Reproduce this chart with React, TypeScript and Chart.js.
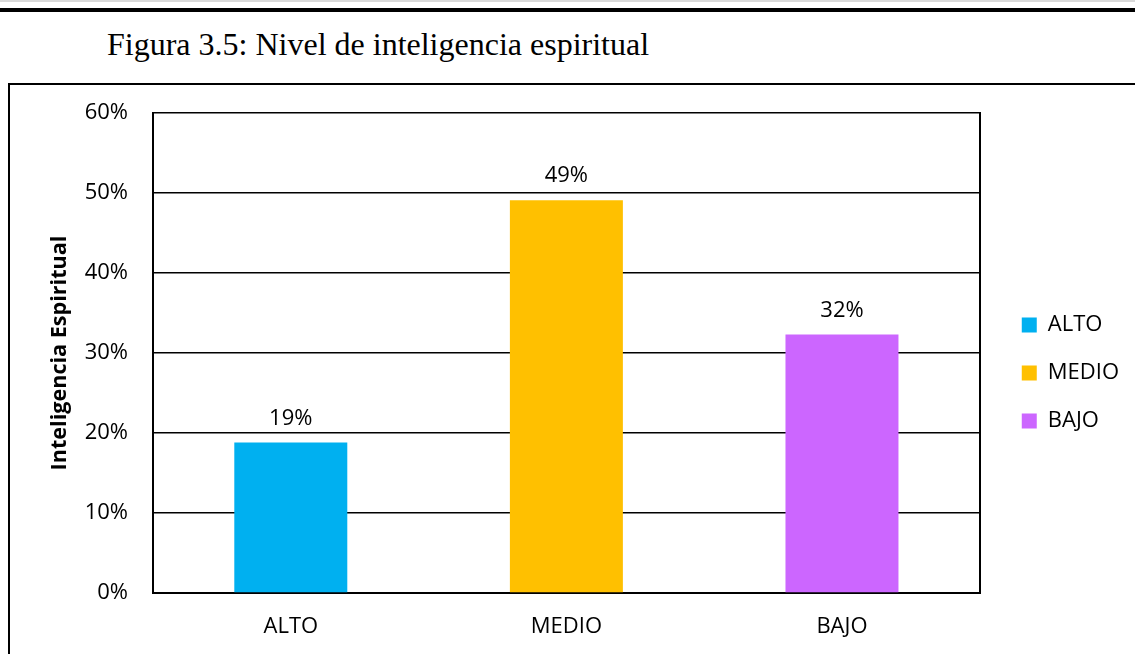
import React, { useEffect, useRef } from "react";
import { Chart, registerables } from "chart.js";

Chart.register(...registerables);

const categories = ["ALTO", "MEDIO", "BAJO"];
const values = [18.8, 49.1, 32.3];
const valueLabels = ["19%", "49%", "32%"];
const barColors = ["#00B0F0", "#FFC000", "#CC66FF"];
const yTicks = [0, 10, 20, 30, 40, 50, 60];
const chartTitle = "Figura 3.5: Nivel de inteligencia espiritual";
const yAxisTitle = "Inteligencia Espiritual";

const FONT = '"Open Sans", "Noto Sans", sans-serif';

const valueLabelPlugin = {
  id: "valueLabels",
  afterDatasetsDraw(chart: any) {
    const { ctx } = chart;
    const meta = chart.getDatasetMeta(0);
    ctx.save();
    ctx.font = `22px ${FONT}`;
    ctx.fillStyle = "#000";
    ctx.textAlign = "center";
    ctx.textBaseline = "middle";
    meta.data.forEach((bar: any, i: number) => {
      ctx.fillText(valueLabels[i], bar.x, bar.y - 24);
    });
    ctx.restore();
  },
};

export default function App() {
  const canvasRef = useRef<HTMLCanvasElement | null>(null);

  useEffect(() => {
    if (!canvasRef.current) return;
    const chart = new Chart(canvasRef.current, {
      type: "bar",
      data: {
        labels: categories,
        datasets: [
          {
            label: yAxisTitle,
            data: values,
            backgroundColor: barColors,
            borderWidth: 0,
            barPercentage: 0.41,
            categoryPercentage: 1,
          },
        ],
      },
      options: {
        animation: false,
        responsive: false,
        maintainAspectRatio: false,
        color: "#000",
        layout: { padding: { top: 113, bottom: 11, left: 47, right: 6 } },
        plugins: {
          tooltip: { enabled: false },
          title: { display: false },
          legend: {
            display: true,
            position: "right",
            fullSize: false,
            title: {
              display: true,
              text: " ",
              color: "#000",
              font: { size: 10 },
              padding: { top: 14, bottom: 14 },
            },
            labels: {
              boxWidth: 15,
              boxHeight: 15,
              padding: 26,
              color: "#000",
              font: { family: FONT, size: 22 },
              generateLabels: () =>
                categories.map((c, i) => ({
                  text: c,
                  fillStyle: barColors[i],
                  strokeStyle: barColors[i],
                  fontColor: "#000",
                  lineWidth: 0,
                  hidden: false,
                  index: i,
                  datasetIndex: 0,
                })),
            },
          },
        },
        scales: {
          x: {
            grid: { display: false, drawTicks: false },
            border: { display: true, color: "#000", width: 2 },
            ticks: { color: "#000", font: { family: FONT, size: 22 }, padding: 21 },
            afterFit: (s: any) => {
              s.height = 50;
            },
          },
          y: {
            min: 0,
            max: 60,
            afterBuildTicks: (s: any) => {
              s.ticks = yTicks.map((v) => ({ value: v }));
            },
            grid: { color: "#000", lineWidth: 1.5, drawTicks: false },
            border: { display: true, color: "#000", width: 2 },
            ticks: {
              color: "#000",
              font: { family: FONT, size: 22 },
              padding: 25,
              callback: (v: any) => `${v}%`,
            },
            title: {
              display: true,
              text: yAxisTitle,
              color: "#000",
              font: { family: FONT, size: 21.6, weight: "bold" },
              padding: { top: 0, bottom: 0 },
            },
            afterFit: (s: any) => {
              s.width = 106;
            },
          },
          yRight: {
            position: "right",
            display: true,
            grid: { display: false, drawOnChartArea: false, drawTicks: false },
            border: { display: true, color: "#000", width: 2 },
            ticks: { display: false },
            afterFit: (s: any) => {
              s.width = 16;
            },
          },
        },
      },
      plugins: [valueLabelPlugin],
    } as any);
    return () => chart.destroy();
  }, []);

  return (
    <div
      style={{
        position: "fixed",
        left: 0,
        top: 0,
        width: 1135,
        height: 654,
        overflow: "hidden",
        background: "#fff",
      }}
    >
      <div style={{ position: "absolute", left: 0, top: 0, width: 1135, height: 2, background: "#d9d9d9" }} />
      <div style={{ position: "absolute", left: 0, top: 8, width: 1135, height: 4, background: "#000" }} />
      <div
        style={{
          position: "absolute",
          left: 107,
          top: 28,
          fontFamily: '"Liberation Serif", "Times New Roman", serif',
          fontSize: 32,
          lineHeight: "32px",
          color: "#000",
          whiteSpace: "nowrap",
        }}
      >
        {chartTitle}
      </div>
      <div
        style={{
          position: "absolute",
          left: 8,
          top: 83,
          width: 1200,
          height: 700,
          border: "2px solid #000",
          boxSizing: "border-box",
        }}
      />
      <canvas
        ref={canvasRef}
        width={1135}
        height={654}
        style={{ position: "absolute", left: 0, top: 0, width: 1135, height: 654 }}
      />
    </div>
  );
}
